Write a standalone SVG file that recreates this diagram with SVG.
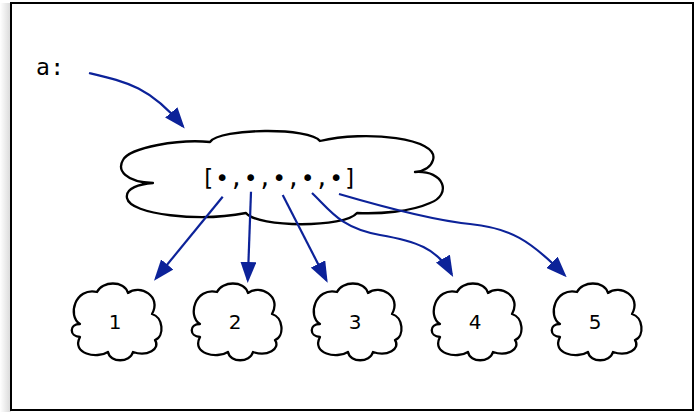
<svg xmlns="http://www.w3.org/2000/svg" width="694" height="412" viewBox="0 0 694 412">
  <style>
    .cloud { fill: #ffffff; stroke: #000000; stroke-width: 2.3; stroke-linejoin: round; }
    .mono { font-family: "DejaVu Sans Mono", "Liberation Mono", monospace; font-size: 23px; letter-spacing: 0.4px; fill: #000000; }
    .lbl { font-family: "DejaVu Sans", "Liberation Sans", sans-serif; font-size: 20px; fill: #000000; text-anchor: middle; }
    .conn { fill: none; stroke: #0c2299; stroke-width: 2.2; marker-end: url(#arrow); }
  </style>
  <defs>
    <linearGradient id="shadow" x1="0" y1="0" x2="1" y2="0">
      <stop offset="0" stop-color="#ffffff"/>
      <stop offset="1" stop-color="#d8d8d8"/>
    </linearGradient>
    <marker id="arrow" viewBox="0 0 21 16" markerWidth="21" markerHeight="16" refX="18" refY="8" markerUnits="userSpaceOnUse" orient="auto">
      <path d="M0,0 L21,8 L0,16 Z" fill="#0c2299"/>
    </marker>
    <path id="small-cloud" d="M -19,-30 C -14,-41 8,-42 12,-29 C 24,-38 46,-26 36,-8 C 47,-5 49,14 39,18 C 45,27 31,35 17,30 C 14,41 -6,41 -8,30 C -19,37 -45,32 -36,15 C -47,14 -47,2 -36,2 C -49,-6 -41,-35 -19,-30 Z"/>
  </defs>

  <rect x="0" y="3" width="11" height="409" fill="url(#shadow)"/>
  <rect x="11" y="3" width="682" height="407" fill="#ffffff" stroke="#000000" stroke-width="2"/>

  <text class="mono" x="36" y="75">a:</text>

  <g id="list">
    <path class="cloud" d="M 210,142 C 220,128 310,127 320,141 C 365,130 440,138 433,160 C 431,167 424,171 415,172 C 445,170 452,195 430,203 C 410,212 380,214 357,213 C 345,228 258,228 246,213 C 200,222 130,215 127,198 C 125,188 140,184 153,183 C 125,182 117,170 123,160 C 130,147 180,139 210,142 Z"/>
    <text class="mono" x="201" y="186">[•,•,•,•,•]</text>
  </g>

  <g id="item1" transform="translate(116,322)">
    <use href="#small-cloud" class="cloud"/>
    <text class="lbl" x="-1" y="7">1</text>
  </g>
  <g id="item2" transform="translate(236,322)">
    <use href="#small-cloud" class="cloud"/>
    <text class="lbl" x="-1" y="7">2</text>
  </g>
  <g id="item3" transform="translate(356,322)">
    <use href="#small-cloud" class="cloud"/>
    <text class="lbl" x="-1" y="7">3</text>
  </g>
  <g id="item4" transform="translate(476,322)">
    <use href="#small-cloud" class="cloud"/>
    <text class="lbl" x="-1" y="7">4</text>
  </g>
  <g id="item5" transform="translate(596,322)">
    <use href="#small-cloud" class="cloud"/>
    <text class="lbl" x="-1" y="7">5</text>
  </g>

  <g id="connectors">
    <path class="conn" d="M 89,73 C 127,82 150,87 182.8,126.3"/>
    <path class="conn" d="M 222.7,196.7 L 155.9,278.4"/>
    <path class="conn" d="M 251,191.7 L 247.8,280"/>
    <path class="conn" d="M 282.7,195 L 326.3,280"/>
    <path class="conn" d="M 312,193 C 330,210 340,228 380,235 C 415,241 437,248 451.7,274.3"/>
    <path class="conn" d="M 339,194 C 380,206 430,220 470,224 C 510,228 530,240 564.6,275.1"/>
  </g>
</svg>
